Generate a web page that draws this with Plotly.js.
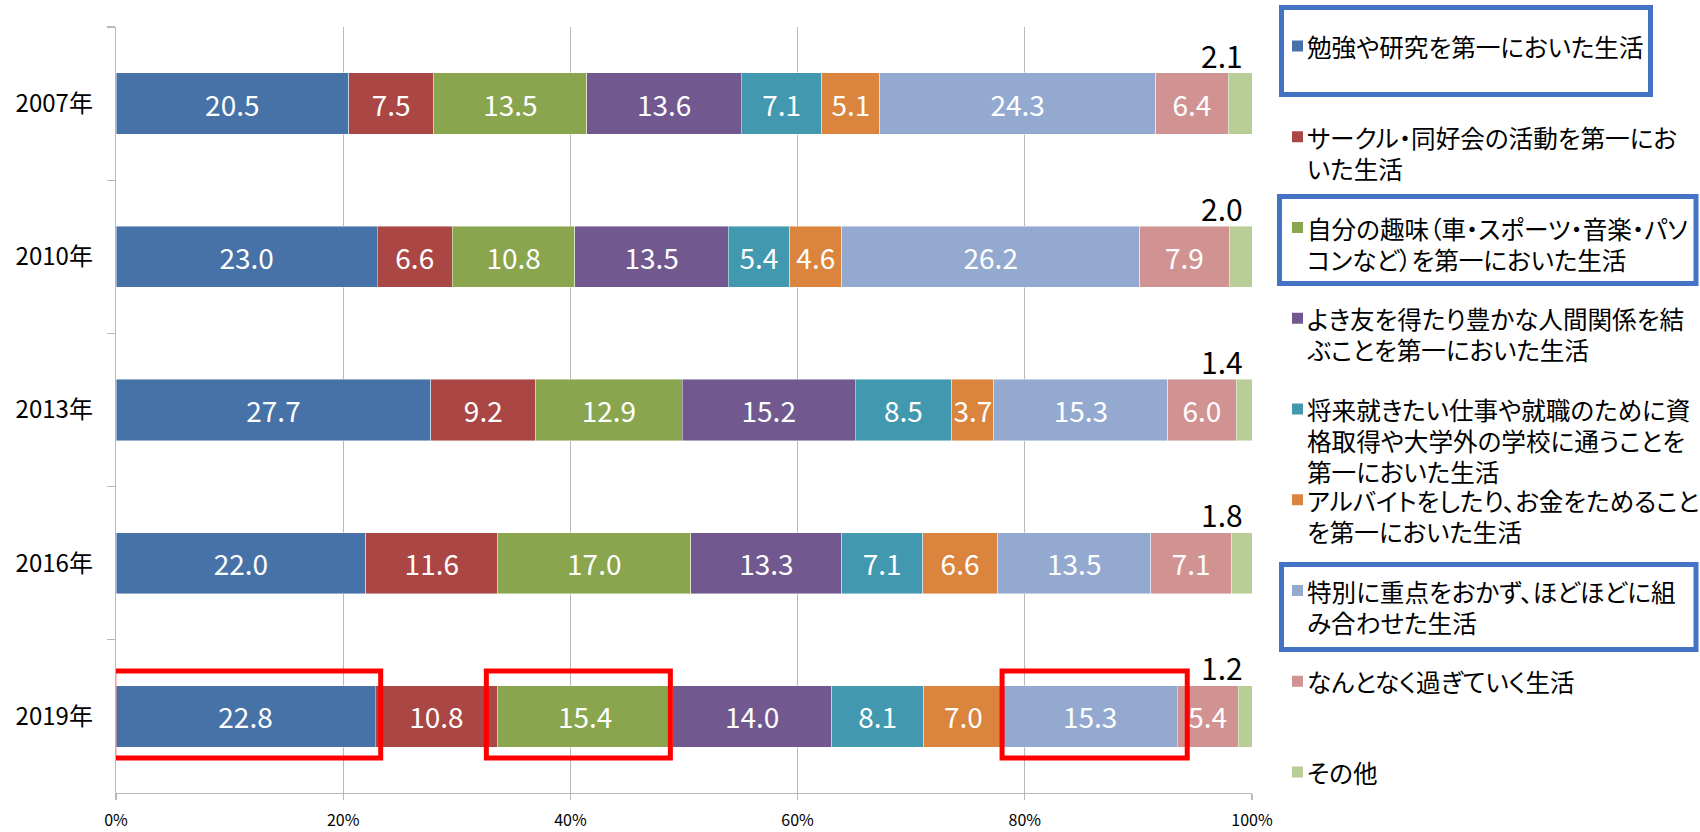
<!DOCTYPE html>
<html>
<head>
<meta charset="utf-8">
<script src="https://cdn.plot.ly/plotly-3.0.1.min.js"></script>
<style>
  html, body { margin: 0; padding: 0; background: #ffffff; }
  #chart { width: 1700px; height: 832px; }
  .annotation-text { font-feature-settings: "palt" 1; }
</style>
</head>
<body>
<div id="chart"></div>
<script>
// ---------------- DATA ----------------
const years = ['2007年', '2010年', '2013年', '2016年', '2019年'];

const seriesNames = [
  '勉強や研究を第一においた生活',
  'サークル・同好会の活動を第一においた生活',
  '自分の趣味（車・スポーツ・音楽・パソコンなど）を第一においた生活',
  'よき友を得たり豊かな人間関係を結ぶことを第一においた生活',
  '将来就きたい仕事や就職のために資格取得や大学外の学校に通うことを第一においた生活',
  'アルバイトをしたり、お金をためることを第一においた生活',
  '特別に重点をおかず、ほどほどに組み合わせた生活',
  'なんとなく過ぎていく生活',
  'その他'
];

// legend labels as wrapped in the reference
const legendLabels = [
  ['勉強や研究を第一においた生活'],
  ['サークル・同好会の活動を第一にお', 'いた生活'],
  ['自分の趣味（車・スポーツ・音楽・パソ', 'コンなど）を第一においた生活'],
  ['よき友を得たり豊かな人間関係を結', 'ぶことを第一においた生活'],
  ['将来就きたい仕事や就職のために資', '格取得や大学外の学校に通うことを', '第一においた生活'],
  ['アルバイトをしたり、お金をためること', 'を第一においた生活'],
  ['特別に重点をおかず、ほどほどに組', 'み合わせた生活'],
  ['なんとなく過ぎていく生活'],
  ['その他']
];

const studyVals    = [20.5, 23.0, 27.7, 22.0, 22.8];
const circleVals   = [7.5, 6.6, 9.2, 11.6, 10.8];
const hobbyVals    = [13.5, 10.8, 12.9, 17.0, 15.4];
const friendVals   = [13.6, 13.5, 15.2, 13.3, 14.0];
const careerVals   = [7.1, 5.4, 8.5, 7.1, 8.1];
const partTimeVals = [5.1, 4.6, 3.7, 6.6, 7.0];
const balanceVals  = [24.3, 26.2, 15.3, 13.5, 15.3];
const driftVals    = [6.4, 7.9, 6.0, 7.1, 5.4];
const otherVals    = [2.1, 2.0, 1.4, 1.8, 1.2];

const allSeries = [studyVals, circleVals, hobbyVals, friendVals, careerVals,
                   partTimeVals, balanceVals, driftVals, otherVals];

// ---------------- STYLE ----------------
const colors = ['#4672A7', '#AA4643', '#89A54E', '#71588F', '#4298AF',
                '#DB843D', '#94A9CF', '#D19392', '#B9CD96'];
const legendBoxed = [0, 2, 6];            // series whose legend entry is boxed in blue
const highlightYear = 4;                  // 2019
const highlightSeries = [0, 2, 6];
const highlightPad = [[-0.2, 0.5], [-1.0, -0.2], [-0.1, 0.9]];

const W = 1700, H = 832;
const M = {l: 116, r: 448, t: 27, b: 39};
const PW = W - M.l - M.r, PH = H - M.t - M.b;
const px = x => (x - M.l) / PW;
const py = y => 1 - (y - M.t) / PH;

const JP = '"Noto Sans CJK JP", "Noto Sans", sans-serif';

// ---------------- TRACES ----------------
const traces = allSeries.map((vals, i) => ({
  type: 'bar',
  orientation: 'h',
  name: seriesNames[i],
  y: years,
  x: vals,
  marker: {color: colors[i], line: {color: 'rgba(255,255,255,0.55)', width: 0.8}},
  text: i < allSeries.length - 1 ? vals.map(v => v.toFixed(1)) : undefined,
  texttemplate: i < allSeries.length - 1 ? '%{text}' : undefined,
  textposition: i < allSeries.length - 1 ? 'inside' : 'none',
  insidetextanchor: 'middle',
  textangle: 0,
  constraintext: 'none',
  cliponaxis: false,
  textfont: {family: JP, size: 28, color: '#ffffff'},
  hoverinfo: 'skip',
  showlegend: false
}));

// ---------------- ANNOTATIONS ----------------
const annotations = [];
// "その他" values above bar ends
const lastIdx = allSeries.length - 1;
years.forEach((yr, j) => {
  annotations.push({
    xref: 'x', yref: 'y', x: 100, y: yr,
    text: allSeries[lastIdx][j].toFixed(1),
    showarrow: false, xanchor: 'right', yanchor: 'middle',
    xshift: -7, yshift: 49,
    font: {family: JP, size: 30, color: '#000000'}
  });
});

// legend (one annotation per wrapped line)
const shapes = [];
const lineH = 31;
legendLabels.forEach((lines, i) => {
  const cy = 46 + 90.75 * i;
  lines.forEach((ln, k) => {
    annotations.push({
      xref: 'paper', yref: 'paper', x: px(1306), y: py(cy + k * lineH),
      xanchor: 'left', yanchor: 'middle', align: 'left',
      text: ln, showarrow: false, borderpad: 0,
      font: {family: JP, size: 24.6, color: '#000000'}
    });
  });
  shapes.push({
    type: 'rect', xref: 'paper', yref: 'paper',
    x0: px(1292), x1: px(1303), y0: py(cy - 5.5), y1: py(cy + 5.5),
    fillcolor: colors[i], line: {width: 0}
  });
});

// blue boxes around legend entries
const legendBoxPx = [
  [1281.5, 1650.5, 7.5, 94.5],
  [1279.5, 1696, 196.5, 283.5],
  [1281.5, 1696, 564.5, 649.5]
];
legendBoxed.forEach((s, k) => {
  const b = legendBoxPx[k];
  shapes.push({
    type: 'rect', xref: 'paper', yref: 'paper',
    x0: px(b[0]), x1: px(b[1]), y0: py(b[2]), y1: py(b[3]),
    line: {color: '#4472C4', width: 5}, fillcolor: 'rgba(0,0,0,0)'
  });
});

// red highlight boxes around 2019 segments
highlightSeries.forEach((s, k) => {
  let start = 0;
  for (let i = 0; i < s; i++) start += allSeries[i][highlightYear];
  const end = start + allSeries[s][highlightYear];
  shapes.push({
    type: 'rect', xref: 'x', yref: 'y',
    x0: start + highlightPad[k][0], x1: end + highlightPad[k][1],
    y0: highlightYear - 0.297, y1: highlightYear + 0.271,
    line: {color: '#FF0000', width: 5}, fillcolor: 'rgba(0,0,0,0)',
    layer: 'above'
  });
});

// ---------------- LAYOUT ----------------
const layout = {
  width: W, height: H,
  margin: M,
  paper_bgcolor: '#ffffff',
  plot_bgcolor: '#ffffff',
  barmode: 'stack',
  barnorm: 'percent',
  bargap: 0.6,
  showlegend: false,
  font: {family: JP, color: '#000000'},
  xaxis: {
    range: [0, 100],
    tick0: 0, dtick: 20, ticksuffix: '%',
    showgrid: true, gridcolor: '#B8B8B8', gridwidth: 1.3,
    showline: true, linecolor: '#B8B8B8', linewidth: 1.3,
    ticks: 'outside', ticklen: 6, tickcolor: '#B8B8B8', tickwidth: 1.3,
    ticklabelstandoff: 6,
    tickfont: {family: JP, size: 16, color: '#000000'},
    zeroline: false, fixedrange: true
  },
  yaxis: {
    type: 'category',
    autorange: 'reversed',
    tickson: 'boundaries',
    ticks: 'outside', ticklen: 8, tickcolor: '#B8B8B8', tickwidth: 1.3,
    showline: true, linecolor: '#B8B8B8', linewidth: 1.3,
    showgrid: false,
    ticklabelstandoff: 17,
    tickfont: {family: JP, size: 24, color: '#000000'},
    fixedrange: true
  },
  annotations: annotations,
  shapes: shapes
};

Plotly.newPlot('chart', traces, layout, {displayModeBar: false, staticPlot: true});
</script>
</body>
</html>
